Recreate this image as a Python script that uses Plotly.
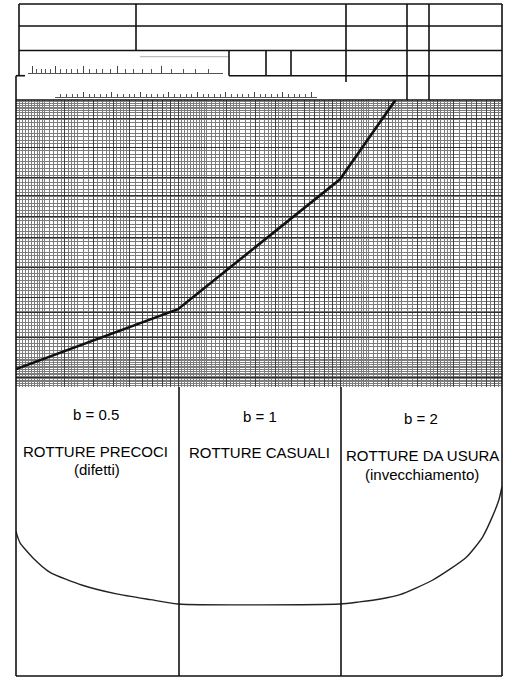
import numpy as np
import plotly.graph_objects as go

W, H = 510, 677

# ---------------- data ----------------
# Weibull probability plot: piecewise line (time on log axis, Weibull units on y)
weib_t = [1, 10, 100, 220]
weib_y = [-3.22, -2.17, 0.11, 1.5]

# Bathtub curve (hazard rate) under the three regions
tub_x = [0.0, 0.006, 0.025, 0.105, 0.21, 0.41, 0.62, 0.83, 1.0, 2.0, 2.12, 2.25, 2.37, 2.57, 2.78, 2.88, 2.94, 2.98, 3.0]
tub_y = [2.01, 1.96, 1.85, 1.64, 1.44, 1.26, 1.14, 1.06, 1.0, 1.0, 1.03, 1.07, 1.13, 1.33, 1.65, 1.93, 2.21, 2.44, 2.63]

region_b = ["b = 0.5", "b = 1", "b = 2"]
region_title = ["ROTTURE PRECOCI", "ROTTURE CASUALI", "ROTTURE DA USURA"]
region_note = ["(difetti)", "", "(invecchiamento)"]

# heavier horizontal rulings of the probability paper (Weibull units)
heavy_y = [1.18, 0.675, 0.149, -0.184, -0.535, -0.92, -1.447, -1.97, -2.22, -2.675, -3.377]

# header ruler scales
ruler1_major = [1, 1.5, 2, 2.5, 3, 3.5]
ruler2_range = [0, 46]

# ---------------- geometry helpers ----------------
def px(x):
    return x / W

def py(y):
    return 1 - y / H

X_L, X_R = 16, 502
GRID_TOP, GRID_BOT = 100, 387
BOT_END = 676

Y1 = 1.5
Y0 = Y1 - (GRID_BOT - GRID_TOP) / 57.0

# grid ticks
decades = [1, 10, 100]
major_x = [m * d for d in decades for m in range(1, 10)] + [1000]
sub = np.concatenate([np.arange(1.05, 1.5, 0.05), np.arange(1.5, 2.5, 0.1),
                      np.arange(2.6, 5.0, 0.2), np.arange(5.5, 10.0, 0.5)])
minor_x = [float(v * d) for d in decades for v in sub if abs(v - round(v)) > 1e-6]
minor_y = list(np.arange(Y0 + 0.03, Y1, 0.0614))
# denser rulings in the bottom and top bands of the paper
minor_y += list(np.arange(Y0 + 0.06, Y0 + 0.55, 0.0614))
minor_y += list(np.arange(Y1 - 0.16, Y1, 0.0614) - 0.03)
minor_y = [float(v) for v in minor_y]

fig = go.Figure()

fig.add_trace(go.Scatter(x=weib_t, y=weib_y, mode="lines",
                         line=dict(color="#111111", width=2.6),
                         xaxis="x", yaxis="y", hoverinfo="skip", showlegend=False))

fig.add_trace(go.Scatter(x=tub_x, y=tub_y, mode="lines",
                         line=dict(color="#222222", width=1.4, shape="spline", smoothing=0.6),
                         xaxis="x2", yaxis="y2", hoverinfo="skip", showlegend=False))

# invisible anchors so the ruler axes are drawn
fig.add_trace(go.Scatter(x=[2], y=[0.5], mode="markers", marker=dict(opacity=0),
                         xaxis="x3", yaxis="y3", hoverinfo="skip", showlegend=False))
fig.add_trace(go.Scatter(x=[10], y=[0.5], mode="markers", marker=dict(opacity=0),
                         xaxis="x4", yaxis="y4", hoverinfo="skip", showlegend=False))

hidden = dict(showticklabels=False, ticks="", zeroline=False, showline=False, fixedrange=True)

layout = dict(
    width=W, height=H, margin=dict(l=0, r=0, t=0, b=0, pad=0),
    paper_bgcolor="white", plot_bgcolor="rgba(0,0,0,0)",
    showlegend=False,
    font=dict(family="Liberation Sans, Arial, sans-serif", color="#000000"),
    xaxis=dict(type="log", range=[0, 3], domain=[px(X_L), px(X_R)], anchor="y",
               tickmode="array", tickvals=major_x, showgrid=True, gridcolor="#404040", gridwidth=1,
               minor=dict(tickmode="array", tickvals=minor_x, showgrid=True, gridcolor="#7c7c7c", gridwidth=1, ticks=""),
               **hidden),
    yaxis=dict(range=[Y0, Y1], domain=[py(GRID_BOT), py(GRID_TOP)], anchor="x",
               tickmode="array", tickvals=heavy_y, showgrid=True, gridcolor="#2e2e2e", gridwidth=1.4,
               minor=dict(tickmode="array", tickvals=minor_y, showgrid=True, gridcolor="#7c7c7c", gridwidth=1, ticks=""),
               **hidden),
    xaxis2=dict(range=[0, 3], domain=[px(X_L), px(X_R)], anchor="y2", showgrid=False, **hidden),
    yaxis2=dict(range=[(676 - BOT_END) / 72.0, (676 - GRID_BOT) / 72.0], domain=[py(BOT_END), py(GRID_BOT)],
                anchor="x2", showgrid=False, **hidden),
    # header rulers
    xaxis3=dict(type="log", range=[np.log10(3.6), 0], domain=[px(28), px(223)], anchor="y3",
                showline=True, linecolor="#555555", linewidth=1, showgrid=False, zeroline=False,
                tickmode="array", tickvals=ruler1_major, ticks="inside", ticklen=7,
                tickcolor="#444444", tickwidth=1, showticklabels=False,
                minor=dict(tickmode="array", tickvals=[float(v) for v in np.arange(1.1, 3.6, 0.1)],
                           ticks="inside", ticklen=4, tickcolor="#555555", tickwidth=1, showgrid=False),
                fixedrange=True),
    yaxis3=dict(domain=[py(72.7), py(60)], anchor="x3", visible=False, range=[0, 1], fixedrange=True),
    xaxis4=dict(range=ruler2_range, domain=[px(55), px(317)], anchor="y4",
                showline=True, linecolor="#555555", linewidth=1, showgrid=False, zeroline=False,
                tickmode="linear", tick0=0, dtick=5, ticks="inside", ticklen=5,
                tickcolor="#444444", tickwidth=1, showticklabels=False,
                minor=dict(dtick=1, ticks="inside", ticklen=3, tickcolor="#555555", tickwidth=1, showgrid=False),
                fixedrange=True),
    yaxis4=dict(domain=[py(96.7), py(86)], anchor="x4", visible=False, range=[0, 1], fixedrange=True),
)

shapes = []

def hline(y, x0, x1, w=1.6, c="#111111"):
    shapes.append(dict(type="line", xref="paper", yref="paper", x0=px(x0), x1=px(x1), y0=py(y), y1=py(y),
                       line=dict(color=c, width=w), layer="above"))

def vline(x, y0, y1, w=1.6, c="#111111"):
    shapes.append(dict(type="line", xref="paper", yref="paper", x0=px(x), x1=px(x), y0=py(y0), y1=py(y1),
                       line=dict(color=c, width=w), layer="above"))

# header table
hline(4, 19, X_R)
hline(26, 19, X_R)
hline(50.5, 19, X_R)
hline(75.7, 229, X_R)
hline(75.7, X_L, 25)
hline(GRID_TOP, X_L, X_R, w=1.4)
vline(19, 4, 75.7)
vline(136, 4, 50.5)
vline(346, 4, 82)
vline(407, 4, GRID_TOP)
vline(429, 4, GRID_TOP)
vline(229, 50.5, 75.7)
vline(266, 50.5, 75.7)
vline(291, 50.5, 75.7)
hline(56.7, 140, 228, w=1.2, c="#bbbbbb")

# outer frame of grid and bottom panel
vline(X_L, 75.7, BOT_END)
vline(X_R, 4, BOT_END)
vline(179, GRID_BOT, BOT_END)
vline(341, GRID_BOT, BOT_END)
hline(BOT_END, X_L, X_R)

layout["shapes"] = shapes

# annotations
ann = []
b_pos = [(95.5, 414), (260, 416), (421, 418)]
t_pos = [(95, 451), (259, 453), (422.5, 455.5)]
n_pos = [(96.5, 469.5), (260, 470), (422, 474)]
for i in range(3):
    ann.append(dict(text=region_b[i], x=px(b_pos[i][0]), y=py(b_pos[i][1]), xref="paper", yref="paper",
                    showarrow=False, xanchor="center", yanchor="middle", font=dict(size=15)))
    ann.append(dict(text=region_title[i], x=px(t_pos[i][0]), y=py(t_pos[i][1]), xref="paper", yref="paper",
                    showarrow=False, xanchor="center", yanchor="middle", font=dict(size=15)))
    if region_note[i]:
        ann.append(dict(text=region_note[i], x=px(n_pos[i][0]), y=py(n_pos[i][1]), xref="paper", yref="paper",
                        showarrow=False, xanchor="center", yanchor="middle", font=dict(size=15)))
layout["annotations"] = ann

fig.update_layout(**layout)
fig.write_html("out.html", config={"displayModeBar": False})
